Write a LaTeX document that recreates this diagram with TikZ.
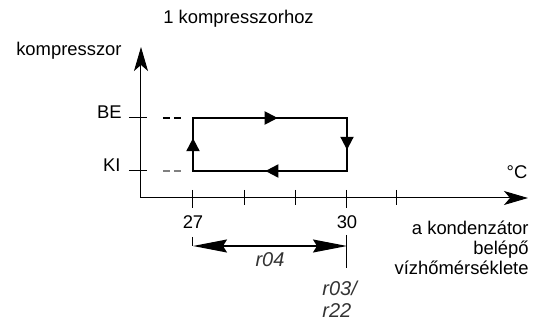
\documentclass[tikz,border=0pt]{standalone}
\usepackage{fontspec}
\setmainfont{Liberation Sans}
\usetikzlibrary{arrows.meta, positioning, decorations.markings}

\tikzset{
  lbl/.style={font=\fontsize{9.2}{10}\selectfont, inner sep=0pt},
  seg/.style={font=\fontsize{10}{11}\selectfont\itshape, inner sep=0pt, text=black!80},
  axisline/.style={line width=0.5pt, -{Stealth[length=12pt, width=7pt, inset=3pt]}},
  cycleline/.style={line width=1pt},
  midarrow/.style={postaction={decorate}, decoration={markings,
    mark=at position #1 with {\arrow{Triangle[length=6.5pt, width=6.5pt]}}}},
  dimline/.style={line width=0.6pt, {Stealth[length=17pt, width=6.5pt, inset=2pt]}-{Stealth[length=17pt, width=6.5pt, inset=2pt]}}
}

\begin{document}
\begin{tikzpicture}[x=0.5pt, y=-0.5pt]
  \useasboundingbox (0,0) rectangle (543,321);

  % axes
  \coordinate (origin) at (141,198);
  \coordinate (ytip) at (141,47);
  \coordinate (xtip) at (528,198);
  \draw[axisline] (origin) -- (ytip);
  \draw[axisline] (origin) -- (xtip);

  % ticks
  \foreach \tx in {245,296,397} {
    \draw[line width=0.5pt] (\tx,190) -- (\tx,205);
  }
  \foreach \tx in {193,347} {
    \draw[line width=0.5pt] (\tx,190) -- (\tx,208);
  }
  \draw[line width=0.5pt] (129,118) -- (147,118);
  \draw[line width=0.5pt] (129,171) -- (147,171);
  \draw[line width=0.6pt, dash pattern=on 3.5pt off 2pt] (163,118) -- (181,118);
  \draw[line width=0.6pt, gray, dash pattern=on 3.5pt off 2pt] (163,171) -- (181,171);

  % switching cycle
  \coordinate (kilo) at (193,171);
  \coordinate (belo) at (193,118);
  \coordinate (behi) at (347,118);
  \coordinate (kihi) at (347,171);
  \draw[cycleline] (kilo) -- (belo) -- (behi) -- (kihi) -- cycle;
  \draw[cycleline, midarrow=0.62] (kilo) -- (belo);
  \draw[cycleline, midarrow=0.55] (belo) -- (behi);
  \draw[cycleline, midarrow=0.60] (behi) -- (kihi);
  \draw[cycleline, midarrow=0.53] (kihi) -- (kilo);

  % labels
  \node[lbl, anchor=west] (title) at (163,19) {1 kompresszorhoz};
  \node[lbl, anchor=east] (ylabel) at (122,51) {kompresszor};
  \node[lbl, anchor=east] (be) at (122,112) {BE};
  \node[lbl, anchor=east] (ki) at (121,165) {KI};
  \node[lbl] (degc) at (517,172) {°C};
  \node[lbl] (t27) at (193,222) {27};
  \node[lbl] (t30) at (347,222) {30};
  \node[lbl, anchor=east, align=right] (xlabel) at (529,248)
    {a kondenzátor\\belépő\\vízhőmérséklete};

  % hysteresis band
  \coordinate (dimlo) at (193,246);
  \coordinate (dimhi) at (347,246);
  \draw[line width=0.5pt] (193,237) -- (dimlo);
  \draw[line width=0.5pt] (347,235) -- (347,268);
  \draw[dimline] (dimlo) -- (dimhi);
  \node[seg] (rband) at (270,260) {r04};
  \node[seg, align=left, anchor=west] (rset) at (322,299) {r03/\\r22};
\end{tikzpicture}
\end{document}
